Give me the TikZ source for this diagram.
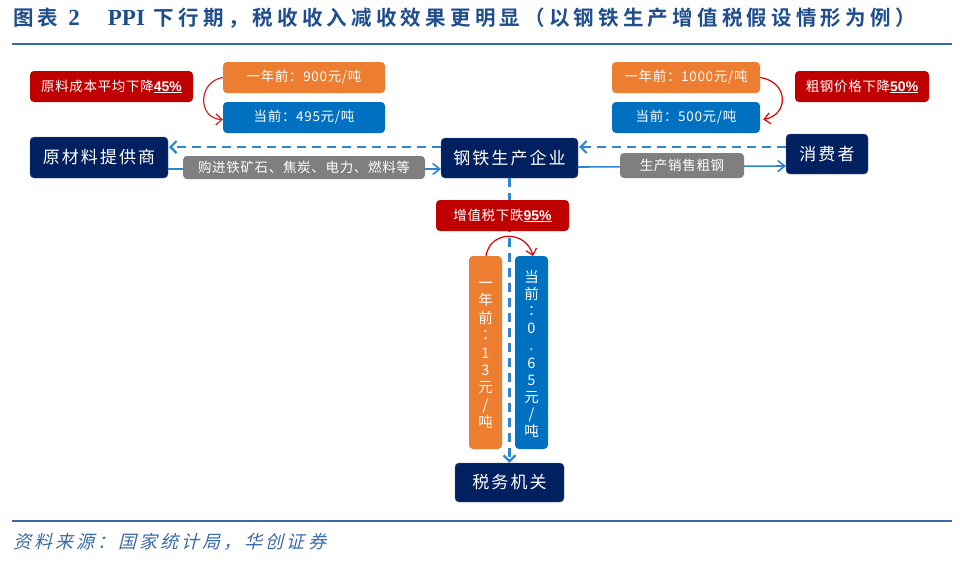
\documentclass[tikz,border=0pt]{standalone}
\usepackage{fontspec}
\usetikzlibrary{arrows.meta,calc}
\setmainfont{Noto Sans CJK SC}
\newfontfamily\titlefont[LetterSpace=20.5]{Noto Sans CJK SC Bold}
\newfontfamily\latinbold{Liberation Serif Bold}
\newfontfamily\tcfont{Noto Sans CJK TC}
\newfontfamily\slantfont[FakeSlant=0.25,LetterSpace=17]{Noto Sans CJK SC}
\newfontfamily\boxfont[LetterSpace=5]{Noto Sans CJK SC}
\newfontfamily\navyfont[LetterSpace=12]{Noto Sans CJK SC}
\newfontfamily\pctfont{Liberation Sans Bold}
\definecolor{navy}{HTML}{002060}
\definecolor{cred}{HTML}{C00000}
\definecolor{corange}{HTML}{ED7D31}
\definecolor{cblue}{HTML}{0070C0}
\definecolor{cgray}{HTML}{7F7F7F}
\definecolor{line}{HTML}{2E86D1}
\definecolor{rulec}{HTML}{3A6BA8}
\definecolor{titlec}{HTML}{1F4E8C}
\newcommand{\fs}[1]{\fontsize{#1}{#1}\selectfont}
\newcommand{\pct}[1]{\underline{\pctfont\fontsize{14}{14}\selectfont #1}}
\newcommand{\lowr}[1]{\raisebox{-1.5pt}{#1}}
\tikzset{
  x=1pt,y=-1pt,
  pbox/.style={rounded corners=4pt,text=white,inner sep=0pt,align=center},
  navybox/.style={pbox,fill=navy,draw=navy!70!white,line width=.4pt,font=\navyfont\fs{17}},
  redbox/.style={pbox,fill=cred,font=\boxfont\fs{13.5}},
  orbox/.style={pbox,fill=corange,font=\boxfont\fs{13.5}},
  blbox/.style={pbox,fill=cblue,font=\boxfont\fs{13.5}},
  graybox/.style={pbox,fill=cgray,font=\boxfont\fs{13.5}},
  solidarrow/.style={draw=line,line width=1.6pt,-{Straight Barb[length=7pt,width=11pt,line width=1.6pt]}},
  dasharrow/.style={draw=line,line width=2.6pt,dash pattern=on 9pt off 6pt,-{Straight Barb[length=6pt,width=12pt,line width=2.2pt]}},
  redarrow/.style={draw=#1,line width=1.2pt,-{Straight Barb[length=6pt,width=11pt,line width=1.2pt]}},
  rulel/.style={draw=rulec,line width=2pt},
}
\newcommand{\boxnode}[7]{\node[#1,minimum width=#5-#3,minimum height=#6-#4] (#2) at ({(#3+#5)/2},{(#4+#6)/2}) {#7};}
\begin{document}
\begin{tikzpicture}
\useasboundingbox (0,0) rectangle (960,565);
\fill[white] (0,0) rectangle (960,565);
% title and rules
\node[anchor=west,inner sep=0pt,text=titlec,font=\titlefont\fs{20.5}] (title) at (13,18) {图表\hspace{10pt}{\latinbold\fs{23}2\hspace{28pt}PPI}\hspace{9pt}下行期，税收收入减收效果更明显（以钢铁生产增值税假设情形为例）};
\coordinate (r1a) at (12,44); \coordinate (r1b) at (952,44);
\coordinate (r2a) at (12,521); \coordinate (r2b) at (952,521);
\draw[rulel] (r1a) -- (r1b);
\draw[rulel] (r2a) -- (r2b);
\node[anchor=west,inner sep=0pt,text=rulec,font=\slantfont\fs{18}] (src) at (13,542) {资料来源：国家统计局，华创证券};
% main nodes
\boxnode{navybox}{raw}{30}{137}{168}{178}{原材料提供商}
\boxnode{navybox}{steel}{441}{138}{578}{178}{钢铁生产企业}
\boxnode{navybox}{cons}{786}{134}{868}{174}{消费者}
\boxnode{navybox}{tax}{455}{463}{564}{502}{税务机关}
% connectors
\coordinate (stA) at (441,147); \coordinate (rawA) at (169,147);
\coordinate (stB) at (441,169); \coordinate (rawB) at (168,169);
\coordinate (stC) at (579,147); \coordinate (coC) at (786,147);
\coordinate (stD) at (578,167); \coordinate (coD) at (786,166);
\draw[dasharrow] (stA) -- (rawA);
\draw[solidarrow] (rawB) -- (stB);
\draw[dasharrow] (coC) -- (stC);
\draw[solidarrow] (stD) -- (coD);
\draw[dasharrow] (steel.south) -- (tax.north);
% top boxes
\boxnode{redbox}{r1}{30}{71}{193}{102}{\lowr{原料成本平均下降\pct{45\%}}}
\boxnode{orbox}{o1}{223}{62}{385}{93}{\lowr{一年前：900元/吨}}
\boxnode{blbox}{b1}{223}{102}{385}{133}{\lowr{当前：495元/吨}}
\boxnode{orbox}{o2}{612}{62}{760}{93}{\lowr{一年前：1000元/吨}}
\boxnode{blbox}{b2}{612}{102}{760}{133}{\lowr{当前：500元/吨}}
\boxnode{redbox}{r2}{795}{71}{929}{102}{\lowr{粗钢价格下降\pct{50\%}}}
\boxnode{graybox}{g1}{183}{156}{425}{179}{\lowr{购进铁矿石、焦炭、电力、燃料等}}
\boxnode{graybox}{g2}{620}{153}{744}{178}{\lowr{生产销售粗钢}}
\boxnode{redbox}{r3}{436}{200}{569}{231}{\lowr{增值税下跌\pct{95\%}}}
\boxnode{orbox}{o3}{469}{256}{502}{449}{}
\boxnode{blbox}{b3}{515}{256}{548}{449}{}
\node[inner sep=0pt,align=center,text=white,font=\fontsize{14.5}{17.4}\selectfont] (o3t) at ($(o3)+(0,3)$) {一\\年\\前\\{\tcfont ：}\\1\\3\\元\\/\\吨};
\node[inner sep=0pt,align=center,text=white,font=\fontsize{14.5}{17.2}\selectfont] (b3t) at ($(b3)+(0,1.5)$) {当\\前\\{\tcfont ：}\\0\\.\\6\\5\\元\\/\\吨};
% red curved arrows
\draw[redarrow=cred!85!white] (o1.west) .. controls (197,82) and (198,119) .. ($(b1.west)+(0,2)$);
\draw[redarrow=red!90!black] (o2.east) .. controls (789,82) and (789,115) .. ($(b2.east)+(3,2)$);
\coordinate (o3top) at (486,256); \coordinate (b3top) at (533,256);
\draw[redarrow=red!90!black] (o3top) .. controls (490,230) and (526,230) .. (b3top);
\end{tikzpicture}
\end{document}
